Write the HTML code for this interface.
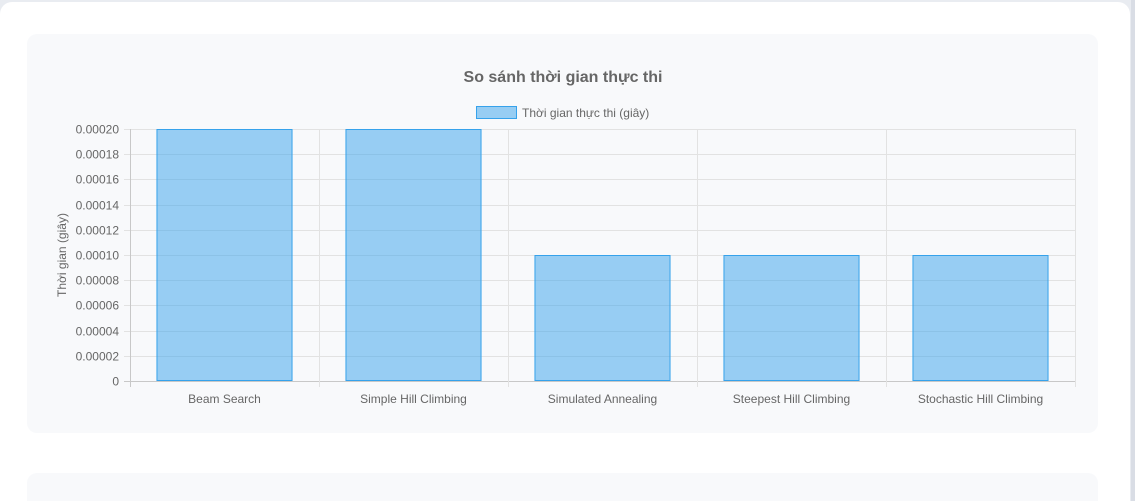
<!DOCTYPE html>
<html style="width:1135px;height:501px;overflow:hidden"><head><meta charset="utf-8"><style>
body{margin:0;width:1135px;height:501px;overflow:hidden;position:relative;background:#e9ecf1;font-family:"Liberation Sans","Noto Sans CJK SC",sans-serif;}
#card{position:absolute;left:0;top:2px;width:1130px;height:499px;background:#fff;border-radius:12px 12px 0 0;}
#sb{position:absolute;left:1131px;top:0;width:4px;height:501px;background:#d9dde5;}
.panel{position:absolute;left:27px;width:1071px;background:#f8f9fb;border-radius:10px;}
</style></head><body>
<div id="card"></div>
<div id="sb"></div>
<div class="panel" style="top:34px;height:399px"></div>
<div class="panel" style="top:473px;height:28px;border-radius:10px 10px 0 0"></div>
<svg id="chart" width="1135" height="501" style="position:absolute;left:0;top:0">
<text x="563" y="82" text-anchor="middle" font-size="16" font-weight="bold" fill="#666">So sánh thời gian thực thi</text>
<g>
<rect x="476.5" y="106.5" width="40" height="12" fill="rgba(54,162,235,0.5)" stroke="#36a2eb"/>
<text x="522" y="117" font-size="12" fill="#666">Thời gian thực thi (giây)</text>
</g>
<text transform="translate(66,255) rotate(-90)" text-anchor="middle" font-size="12" fill="#666">Thời gian (giây)</text>
<g id="grid"></g><g id="bars"></g><g id="labels"></g>
</svg>
<script>
const categories=["Beam Search","Simple Hill Climbing","Simulated Annealing","Steepest Hill Climbing","Stochastic Hill Climbing"];
const values=[0.0002,0.0002,0.0001,0.0001,0.0001];
const yTicks=[0,0.00002,0.00004,0.00006,0.00008,0.0001,0.00012,0.00014,0.00016,0.00018,0.0002];
const yTickLabels=["0","0.00002","0.00004","0.00006","0.00008","0.00010","0.00012","0.00014","0.00016","0.00018","0.00020"];
const NS="http://www.w3.org/2000/svg";
const L=130,R=1075,T=129,B=381,yMax=0.0002;
const y=v=>B-(v/yMax)*(B-T);
const bw=(R-L)/categories.length;
const x=i=>L+i*bw;
function mk(t,a,p){const e=document.createElementNS(NS,t);for(const k in a)e.setAttribute(k,a[k]);p.appendChild(e);return e;}
const g=document.getElementById('grid'),bg=document.getElementById('bars'),lg=document.getElementById('labels');
yTicks.forEach((v,i)=>{const yy=Math.round(y(v))+0.5;
 const ln=mk('line',{x1:124,x2:R,y1:yy,y2:yy,stroke:i==0?'#c8c8c8':'#e2e2e2'},g);
 
 
 const t=mk('text',{x:119,y:yy+4,'text-anchor':'end','font-size':12,fill:'#666'},lg);t.textContent=yTickLabels[i];
 
 
});
for(let i=0;i<=categories.length;i++){const xx=Math.round(x(i))+0.5;
 const ln=mk('line',{x1:xx,x2:xx,y1:T,y2:B+6,stroke:i==0?'#c8c8c8':'#e2e2e2'},g);
 
 
}
categories.forEach((c,i)=>{const w=bw*0.72,x0=x(i)+(bw-w)/2;
 const r=mk('rect',{x:x0+0.5,y:y(values[i])+0.5,width:w-1,height:B-y(values[i])-1,fill:'rgba(54,162,235,0.5)',stroke:'#36a2eb','stroke-width':1},bg);
 
 
 const t=mk('text',{x:x(i)+bw/2,y:403,'text-anchor':'middle','font-size':12,fill:'#666'},lg);t.textContent=c;
 
 
});
</script>
</body></html>
